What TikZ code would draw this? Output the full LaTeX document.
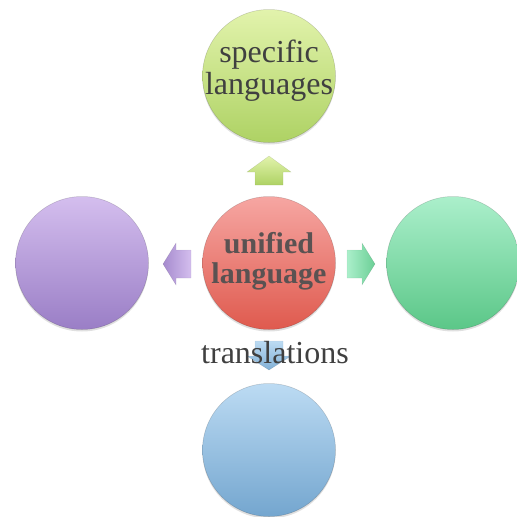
\documentclass[tikz,border=0pt]{standalone}
\usepackage{fontspec}
\setmainfont{Liberation Serif}
\definecolor{gtop}{HTML}{E2F3AC}
\definecolor{gbot}{HTML}{AED264}
\definecolor{rtop}{HTML}{F6A6A2}
\definecolor{rbot}{HTML}{DF5A4E}
\definecolor{ptop}{HTML}{D4BEEE}
\definecolor{pbot}{HTML}{9A7EC6}
\definecolor{mtop}{HTML}{ABEFCB}
\definecolor{mbot}{HTML}{5BC788}
\definecolor{btop}{HTML}{BCDBF3}
\definecolor{bbot}{HTML}{74A6CF}
\definecolor{txt}{HTML}{404040}
\definecolor{ctxt}{HTML}{5A5252}
\begin{document}
\begin{tikzpicture}[x=1pt,y=-1pt]
\useasboundingbox (0,0) rectangle (517,517);
\tikzset{
  ball/.style={circle, minimum size=133pt, inner sep=0pt, align=center,
    draw=black, draw opacity=0.18, line width=0.5pt,
    preaction={fill=black, fill opacity=0.12, transform canvas={yshift=-2pt}}},
  blockarrow/.style={draw=black, draw opacity=0.12, line width=0.4pt},
  lbl/.style={font=\fontsize{32}{32}\selectfont, text=txt, align=center}
}
% circles
\node[ball, top color=gtop, bottom color=gbot] (top) at (269,76) {};
\node[ball, top color=rtop, bottom color=rbot] (center) at (269,263) {};
\node[ball, top color=ptop, bottom color=pbot] (left) at (82,263) {};
\node[ball, top color=mtop, bottom color=mbot] (right) at (453,263) {};
\node[ball, top color=btop, bottom color=bbot] (bottom) at (269,450) {};
% labels
\node[lbl, inner sep=0pt] (toplbl) at ([yshift=5pt]top) {specific\\languages};
\node[lbl, inner sep=0pt, text=ctxt, font=\bfseries\fontsize{30}{30}\selectfont] (ctrlbl) at ([yshift=2pt]center) {unified\\language};
% block arrows
\shade[blockarrow, top color=gtop, bottom color=gbot]
  (255,185) -- (255,172) -- (247,172) -- (269,156) -- (291,172) -- (283,172) -- (283,185) -- cycle;
\shade[blockarrow, left color=pbot!80!ptop, right color=ptop]
  (191,250) -- (176,250) -- (176,243) -- (163,264) -- (176,285) -- (176,278) -- (191,278) -- cycle;
\shade[blockarrow, left color=mtop, right color=mbot!80!mtop]
  (347,250) -- (362,250) -- (362,243) -- (375,264) -- (362,285) -- (362,278) -- (347,278) -- cycle;
\shade[blockarrow, top color=btop, bottom color=bbot!80!btop]
  (255,341) -- (283,341) -- (283,356) -- (291,356) -- (269,370) -- (247,356) -- (255,356) -- cycle;
\node[lbl, inner sep=0pt, anchor=base] (trans) at (275,363) {translations};
\end{tikzpicture}
\end{document}
